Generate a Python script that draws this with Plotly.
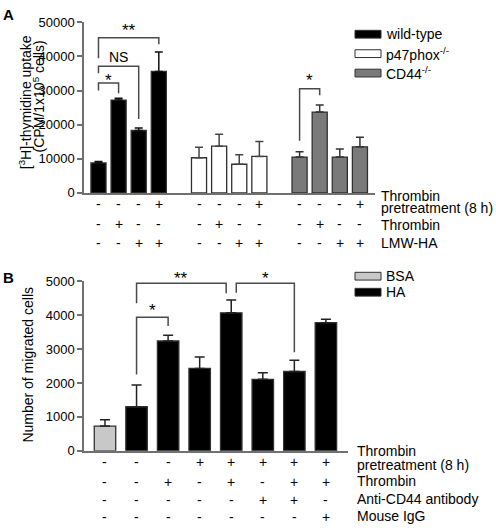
import plotly.graph_objects as go

# ---------------- data ----------------
# Panel A
a_wt = [8800, 27200, 18300, 35600]
a_wt_err = [400, 550, 700, 5700]
a_p47 = [10300, 13700, 8400, 10700]
a_p47_err = [3100, 3500, 2800, 4400]
a_cd44 = [10500, 23700, 10500, 13500]
a_cd44_err = [1600, 2100, 2400, 2800]
a_legend = ["wild-type", "p47phox<sup>-/-</sup>", "CD44<sup>-/-</sup>"]
a_pre = ["-", "-", "-", "+"]
a_thr = ["-", "+", "-", "-"]
a_lmw = ["-", "-", "+", "+"]
a_yticks = [0, 10000, 20000, 30000, 40000, 50000]

# Panel B
b_vals = [730, 1300, 3240, 2430, 4070, 2110, 2340, 3780]
b_err = [190, 640, 170, 340, 380, 190, 330, 100]
b_legend = ["BSA", "HA"]
b_pre = ["-", "-", "-", "+", "+", "+", "+", "+"]
b_thr = ["-", "-", "+", "-", "+", "-", "+", "+"]
b_anti = ["-", "-", "-", "-", "-", "+", "+", "-"]
b_igg = ["-", "-", "-", "-", "-", "-", "-", "+"]
b_yticks = [0, 1000, 2000, 3000, 4000, 5000]

# significance brackets: (x0, x1, top, left_bottom, right_bottom, label, label px shift)
a_brackets = [
    (0, 3, 45470, 39500, 43600, "**", 7),
    (0, 2, 37100, 35100, 21700, "NS", 9),
    (0, 1, 32200, 30000, 29200, "*", 3),
    (10, 11, 30500, 15300, 28600, "*", 8),
]
b_brackets = [
    (1, 3.84, 4940, 4350, 4650, "**", 5),
    (4.16, 6, 4940, 4660, 2910, "*", 5),
    (1, 2, 3940, 2250, 3680, "*", 7),
]

# ---------------- layout helpers ----------------
W, H = 496, 532
FONT = "Liberation Sans, Arial, sans-serif"
AX = "#707070"
EDGE = "#303030"


def px(x):
    return x / W


def py(y):
    return 1 - y / H


fig = go.Figure()

# Panel A bars
a_series = [(a_wt, a_wt_err, "black", "#111111"),
            (a_p47, a_p47_err, "white", "#444444"),
            (a_cd44, a_cd44_err, "#7a7a7a", "#333333")]
for g, (vals, errs, col, ecol) in enumerate(a_series):
    xs = [g * 5 + i for i in range(len(vals))]
    fig.add_trace(go.Bar(
        x=xs, y=vals, width=0.75, xaxis="x", yaxis="y",
        marker=dict(color=col, line=dict(color=EDGE, width=1.3)),
        error_y=dict(type="data", array=errs, arrayminus=[0] * len(errs),
                     symmetric=False, color=ecol, thickness=1.5, width=4),
        showlegend=False, hoverinfo="skip"))

# Panel B bars
b_colors = ["#c8c8c8"] + ["black"] * (len(b_vals) - 1)
fig.add_trace(go.Bar(
    x=list(range(len(b_vals))), y=b_vals, width=0.68, xaxis="x2", yaxis="y2",
    marker=dict(color=b_colors, line=dict(color=EDGE, width=1.3)),
    error_y=dict(type="data", array=b_err, arrayminus=[0] * len(b_err),
                 symmetric=False, color="#222222", thickness=1.5, width=5),
    showlegend=False, hoverinfo="skip"))

axis_common = dict(showgrid=False, zeroline=False, showline=True,
                   linecolor=AX, linewidth=1.5)
ytick_common = dict(ticks="outside", ticklen=5, tickwidth=1.5, tickcolor=AX,
                    tickfont=dict(family=FONT, size=13, color="black"))

fig.update_layout(
    width=W, height=H, margin=dict(l=0, r=0, t=0, b=0),
    paper_bgcolor="white", plot_bgcolor="white",
    barmode="overlay",
    font=dict(family=FONT, size=14, color="black"),
    xaxis=dict(domain=[px(84), px(375)], range=[-0.72, 13.75], anchor="y",
               showticklabels=False, ticks="", **axis_common),
    yaxis=dict(domain=[py(191.3), py(15.8)], range=[0, 50000], anchor="x",
               tickvals=a_yticks, ticktext=[str(v) for v in a_yticks],
               **ytick_common, **axis_common),
    xaxis2=dict(domain=[px(84), px(348)], range=[-0.665, 7.70], anchor="y2",
                showticklabels=False, ticks="", **axis_common),
    yaxis2=dict(domain=[py(456.7), py(282.3)], range=[0, 5000], anchor="x2",
                tickvals=b_yticks, ticktext=[str(v) for v in b_yticks],
                **ytick_common, **axis_common),
)

shapes = []
ann = []


def add_brackets(brs, xref, yref):
    for x0, x1, top, lb, rb, lab, shift in brs:
        shapes.append(dict(type="path", xref=xref, yref=yref,
                           path=f"M {x0},{lb} L {x0},{top} L {x1},{top} L {x1},{rb}",
                           line=dict(color="#4a4a4a", width=1.5)))
        size = 14 if lab == "NS" else 17
        ann.append(dict(x=(x0 + x1) / 2, y=top, xref=xref, yref=yref, text=lab,
                        showarrow=False, font=dict(size=size), xanchor="center",
                        yanchor="middle", yshift=shift))


add_brackets(a_brackets, "x", "y")
add_brackets(b_brackets, "x2", "y2")

# sign tables
a_rows = [(a_pre, 203), (a_thr, 223), (a_lmw, 243)]
for signs, ypix in a_rows:
    for g in range(3):
        for i, s in enumerate(signs):
            ann.append(dict(x=g * 5 + i, y=py(ypix), xref="x", yref="paper",
                            text=s, showarrow=False, font=dict(size=14),
                            xanchor="center", yanchor="middle"))
b_rows = [(b_pre, 468.3), (b_thr, 488.3), (b_anti, 507.7), (b_igg, 525)]
for signs, ypix in b_rows:
    for i, s in enumerate(signs):
        ann.append(dict(x=i, y=py(ypix), xref="x2", yref="paper",
                        text=s, showarrow=False, font=dict(size=14),
                        xanchor="center", yanchor="middle"))

# row labels
a_labels = [("Thrombin", 194), ("pretreatment (8 h)", 207), ("Thrombin", 224),
            ("LMW-HA", 243)]
for t, ypix in a_labels:
    ann.append(dict(x=px(379), y=py(ypix), xref="paper", yref="paper", text=t,
                    showarrow=False, xanchor="left", yanchor="middle",
                    font=dict(size=14)))
b_labels = [("Thrombin", 457), ("pretreatment (8 h)", 471),
            ("Thrombin", 488), ("Anti-CD44 antibody", 506.5),
            ("Mouse IgG", 523.5)]
for t, ypix in b_labels:
    ann.append(dict(x=px(355), y=py(ypix), xref="paper", yref="paper", text=t,
                    showarrow=False, xanchor="left", yanchor="middle",
                    font=dict(size=14)))

# legends (drawn boxes + text)
a_leg_fill = ["black", "white", "#7a7a7a"]
for i, (lab, col) in enumerate(zip(a_legend, a_leg_fill)):
    yc = 28 + i * 20
    shapes.append(dict(type="rect", xref="paper", yref="paper",
                       x0=px(355), x1=px(381), y0=py(yc + 4), y1=py(yc - 4),
                       fillcolor=col, line=dict(color=EDGE, width=1)))
    ann.append(dict(x=px(384), y=py(yc), xref="paper", yref="paper", text=lab,
                    showarrow=False, xanchor="left", yanchor="middle",
                    font=dict(size=14)))
b_leg_fill = ["#c8c8c8", "black"]
for i, (lab, col) in enumerate(zip(b_legend, b_leg_fill)):
    yc = 277 + i * 16.5
    shapes.append(dict(type="rect", xref="paper", yref="paper",
                       x0=px(355), x1=px(381), y0=py(yc + 4), y1=py(yc - 4),
                       fillcolor=col, line=dict(color=EDGE, width=1)))
    ann.append(dict(x=px(384), y=py(yc), xref="paper", yref="paper", text=lab,
                    showarrow=False, xanchor="left", yanchor="middle",
                    font=dict(size=14)))

# axis titles
ann.append(dict(x=px(25), y=py(98), xref="paper", yref="paper",
                text="[<sup>3</sup>H]-thymidine uptake", textangle=-90,
                showarrow=False, xanchor="center", yanchor="middle",
                font=dict(size=14)))
ann.append(dict(x=px(39), y=py(92), xref="paper", yref="paper",
                text="(CPM/1x10<sup>5</sup> cells)", textangle=-90,
                showarrow=False, xanchor="center", yanchor="middle",
                font=dict(size=14)))
ann.append(dict(x=px(28), y=py(368), xref="paper", yref="paper",
                text="Number of migrated cells", textangle=-90,
                showarrow=False, xanchor="center", yanchor="middle",
                font=dict(size=14)))

# panel letters
ann.append(dict(x=px(8), y=py(8), xref="paper", yref="paper", text="<b>A</b>",
                showarrow=False, xanchor="center", yanchor="middle",
                font=dict(size=15)))
ann.append(dict(x=px(8), y=py(278), xref="paper", yref="paper", text="<b>B</b>",
                showarrow=False, xanchor="center", yanchor="middle",
                font=dict(size=15)))

fig.update_layout(shapes=shapes, annotations=ann)
fig.write_html("out.html", config={"displayModeBar": False},
               post_script="document.body.style.margin='0';"
                           "document.body.style.overflow='hidden';")
